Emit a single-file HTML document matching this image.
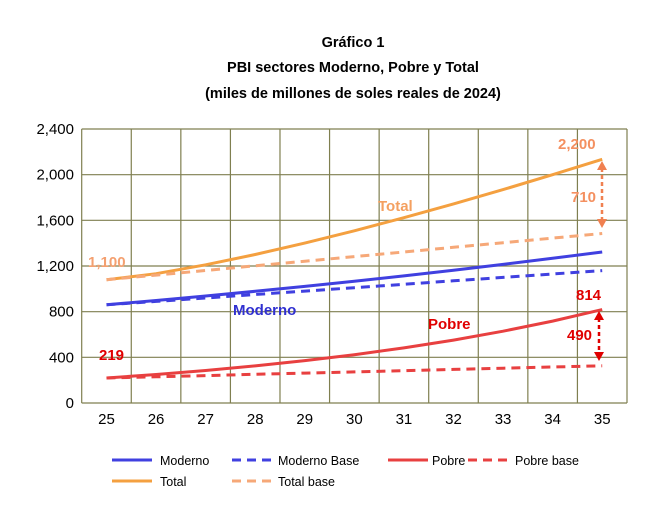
<!DOCTYPE html>
<html><head><meta charset="utf-8"><style>
body{margin:0;background:#fff;}
svg text{font-family:"Liberation Sans",sans-serif;}
</style></head><body>
<svg id="s" width="662" height="517" viewBox="0 0 662 517" xmlns="http://www.w3.org/2000/svg">
<rect width="662" height="517" fill="#fff"/>
<g font-weight="bold" font-size="14.5" text-anchor="middle" fill="#000">
<text x="353" y="47">Gráfico 1</text>
<text x="353" y="72">PBI sectores Moderno, Pobre y Total</text>
<text x="353" y="98">(miles de millones de soles reales de 2024)</text>
</g>
<g id="grid" stroke="#7f7f50" stroke-width="1.2" fill="none"></g>
<g id="yl" font-size="15" text-anchor="end" fill="#000"></g>
<g id="xl" font-size="15" text-anchor="middle" fill="#000"></g>
<g id="lines" fill="none" stroke-width="3"></g>
<g font-weight="bold" font-size="15">
<text x="88" y="267" fill="#f4a070">1,100</text>
<text x="99" y="360" fill="#e00000">219</text>
<text x="233" y="315" fill="#3030d0">Moderno</text>
<text x="378" y="211" fill="#f4a060">Total</text>
<text x="428" y="329" fill="#e00000">Pobre</text>
<text x="558" y="149" fill="#f49060">2,200</text>
<text x="571" y="202" fill="#f49060">710</text>
<text x="576" y="300" fill="#e00000">814</text>
<text x="567" y="340" fill="#e00000">490</text>
</g>
<g stroke-width="2.5" stroke-dasharray="4,3">
<line x1="602" y1="168" x2="602" y2="222" stroke="#f08050"/>
<line x1="599" y1="318" x2="599" y2="354" stroke="#e00000"/>
</g>
<polygon points="602,161 597,170 607,170" fill="#f08050"/>
<polygon points="602,228 597,219 607,219" fill="#f08050"/>
<polygon points="599,311 594,320 604,320" fill="#e00000"/>
<polygon points="599,361 594,352 604,352" fill="#e00000"/>
<g font-size="12.5" fill="#000">
<line x1="112" y1="460" x2="152" y2="460" stroke="#4040e0" stroke-width="3"/><text x="160" y="465">Moderno</text>
<line x1="232" y1="460" x2="272" y2="460" stroke="#4040e0" stroke-width="3" stroke-dasharray="9,6"/><text x="278" y="465">Moderno Base</text>
<line x1="388" y1="460" x2="428" y2="460" stroke="#e84040" stroke-width="3"/><text x="432" y="465">Pobre</text>
<line x1="468" y1="460" x2="508" y2="460" stroke="#e84040" stroke-width="3" stroke-dasharray="9,6"/><text x="515" y="465">Pobre base</text>
<line x1="112" y1="481" x2="152" y2="481" stroke="#f4a040" stroke-width="3"/><text x="160" y="486">Total</text>
<line x1="232" y1="481" x2="272" y2="481" stroke="#f6a878" stroke-width="3" stroke-dasharray="9,6"/><text x="278" y="486">Total base</text>
</g>
</svg>
<script>
var NS="http://www.w3.org/2000/svg";
function el(p,t,a,txt){var e=document.createElementNS(NS,t);for(var k in a)e.setAttribute(k,a[k]);if(txt)e.textContent=txt;document.getElementById(p).appendChild(e);}
var L=81.7,R=627,T=129,B=403,W=(R-L)/11;
function Y(v){return B-v*(B-T)/2400;}
for(var i=0;i<=11;i++){var x=L+i*W;el("grid","line",{x1:x,y1:T,x2:x,y2:B});}
for(var j=0;j<=6;j++){var y=Y(j*400);el("grid","line",{x1:L,y1:y,x2:R,y2:y});
el("yl","text",{x:74,y:y+5},(j*400).toLocaleString("en-US"));}
for(var i=0;i<11;i++)el("xl","text",{x:L+W/2+i*W,y:424},String(25+i));
// type: g=geometric, p=power 1.3, l=linear
var S=[[1080,2135,"#f4a040","","p"],[1080,1485,"#f6a878","9,6","l"],[860,1323,"#4040e0","","g"],[860,1160,"#4040e0","9,6","l"],[219,818,"#e84040","","g"],[219,326,"#e84040","9,6","l"]];
S.forEach(function(s){var r=Math.pow(s[1]/s[0],0.1),d="";
for(var i=0;i<=10;i++){var t=i/10,v;
if(s[4]=="g")v=s[0]*Math.pow(r,i);else if(s[4]=="p")v=s[0]+(s[1]-s[0])*Math.pow(t,1.3);else v=s[0]+(s[1]-s[0])*t;
var x=L+W/2+i*W,y=Y(v);d+=(i?"L":"M")+x.toFixed(1)+","+y.toFixed(1);}
var a={d:d,stroke:s[2]};if(s[3])a["stroke-dasharray"]=s[3];el("lines","path",a);});
</script>
</body></html>
